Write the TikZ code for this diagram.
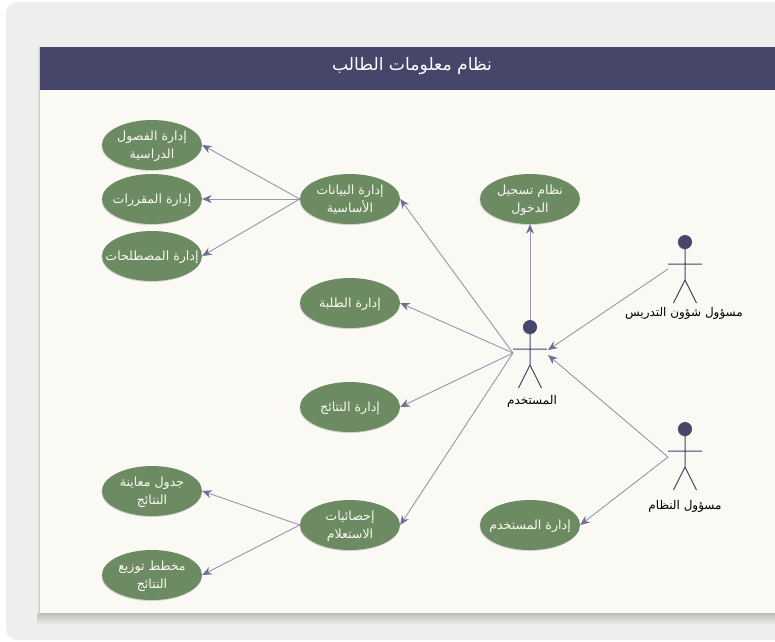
\documentclass[tikz,border=0pt]{standalone}
\usepackage{fontspec}
\newfontfamily\arabicfont[Script=Arabic]{DejaVu Sans}
\TeXXeTstate=1
\usetikzlibrary{shapes.geometric,arrows.meta,shadows}
\definecolor{navy}{HTML}{46456A}
\definecolor{leaf}{HTML}{6D8B62}
\definecolor{paper}{HTML}{FAF9F4}
\definecolor{frame}{HTML}{EEEEEC}
\definecolor{wire}{HTML}{9695B2}
\definecolor{tipc}{HTML}{6F6E93}
\definecolor{shade}{HTML}{BDBDB9}
\newcommand{\arl}[1]{\makebox[0pt][c]{\raisebox{-2pt}[8pt][3pt]{\arabicfont\beginR #1\endR}}}
\tikzset{
  usecase/.style={ellipse,fill=leaf,text=paper,minimum width=100pt,minimum height=50pt,inner sep=0pt,align=center,font=\fontsize{12.6}{18}\selectfont,
    drop shadow={shadow xshift=-0.6pt,shadow yshift=-1pt,opacity=0.15,fill=black}},
  link/.style={draw=wire,line width=0.9pt,-{Stealth[length=9.5pt,width=8pt,color=tipc]}},
  limb/.style={draw=navy,line width=1pt},
  head/.style={circle,fill=navy,minimum size=14pt,inner sep=0pt,drop shadow={shadow xshift=-0.5pt,shadow yshift=-0.8pt,opacity=0.15,fill=black}},
  actorname/.style={text=black,font=\fontsize{12}{14}\selectfont,inner sep=0pt},
  titletext/.style={text=white,font=\fontsize{17.2}{20}\selectfont,inner sep=0pt}
}
\newcommand{\actor}[3]{%
  \node[head] (#1head) at (#2,#3) {};
  \coordinate (#1neck) at (#2,#3+22);
  \coordinate (#1hip) at (#2,#3+38);
  \coordinate (#1armL) at (#2-17,#3+22);
  \coordinate (#1armR) at (#2+17,#3+22);
  \coordinate (#1legL) at (#2-11.5,#3+61);
  \coordinate (#1legR) at (#2+11.5,#3+61);
  \draw[limb] (#1head) -- (#1hip) (#1armL) -- (#1armR) (#1legL) -- (#1hip) -- (#1legR);
}
\begin{document}
\begin{tikzpicture}[x=1pt,y=-1pt]
\useasboundingbox (0,0) rectangle (775,641);
\fill[white] (0,0) rectangle (775,641);
\fill[frame,rounded corners=11pt] (6,2) rectangle (800,640);
% soft panel shadow
\shade[top color=shade,bottom color=frame] (37,613) rectangle (775,625);
\shade[left color=frame,right color=shade] (37,47) rectangle (40,613);
\fill[paper] (40,47) rectangle (775,613);
\fill[navy] (40,47) rectangle (775,90);
\node[titletext] (title) at (412,66) {\arl{نظام معلومات الطالب}};

\node[usecase] (semesters) at (152,145) {\arl{إدارة الفصول}\\\arl{الدراسية}};
\node[usecase] (courses) at (152,199) {\arl{إدارة المقررات}};
\node[usecase] (terms) at (152,256) {\arl{إدارة المصطلحات}};
\node[usecase] (basic) at (350,199) {\arl{إدارة البيانات}\\\arl{الأساسية}};
\node[usecase] (students) at (350,303) {\arl{إدارة الطلبة}};
\node[usecase] (results) at (350,407) {\arl{إدارة النتائج}};
\node[usecase] (stats) at (350,525) {\arl{إحصائيات}\\\arl{الاستعلام}};
\node[usecase] (table) at (152,491) {\arl{جدول معاينة}\\\arl{النتائج}};
\node[usecase] (chart) at (152,575) {\arl{مخطط توزيع}\\\arl{النتائج}};
\node[usecase] (login) at (530,199) {\arl{نظام تسجيل}\\\arl{الدخول}};
\node[usecase] (usermgmt) at (530,525) {\arl{إدارة المستخدم}};

\actor{user}{530}{327}
\actor{teach}{685}{242}
\actor{admin}{685}{429}

\node[actorname] (userlabel) at (532,400) {\arl{المستخدم}};
\node[actorname] (teachlabel) at (684,312) {\arl{مسؤول شؤون التدريس}};
\node[actorname] (adminlabel) at (685,505) {\arl{مسؤول النظام}};

\coordinate (userport) at (513,353);
\coordinate (userinA) at (548,350);
\coordinate (userinB) at (548,355);
\coordinate (teachport) at (668,269);
\coordinate (adminport) at (668,457);

\draw[link] (basic.west) -- (semesters.east);
\draw[link] (basic.west) -- (courses.east);
\draw[link] (basic.west) -- (terms.east);
\draw[link] (stats.west) -- (table.east);
\draw[link] (stats.west) -- (chart.east);
\draw[link] (userport) -- (basic.east);
\draw[link] (userport) -- (students.east);
\draw[link] (userport) -- (results.east);
\draw[link] (userport) -- (stats.east);
\draw[link] (userhead) -- (login.south);
\draw[link] (teachport) -- (userinA);
\draw[link] (adminport) -- (userinB);
\draw[link] (adminport) -- (usermgmt.east);
\end{tikzpicture}
\end{document}
